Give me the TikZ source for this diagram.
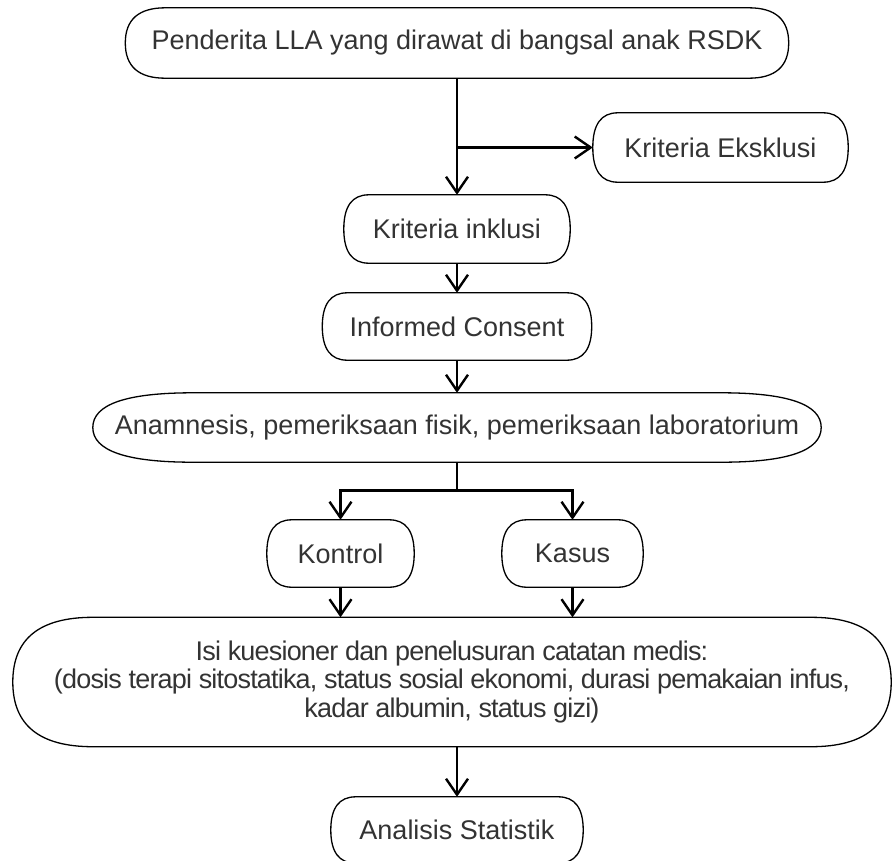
\documentclass[tikz,border=0pt]{standalone}
\usepackage{fontspec}
\setmainfont{Liberation Sans}
\usetikzlibrary{arrows.meta,calc}
\definecolor{txt}{HTML}{333333}
\newcommand\tboxborder[2]{%
  \path ([xshift=#2]#1.north west) coordinate (q1)
        ([xshift=-#2]#1.north east) coordinate (q2)
        ([xshift=-#2]#1.south east) coordinate (q3)
        ([xshift=#2]#1.south west) coordinate (q4);
  \draw[boxline] (q1) -- (q2)
    .. controls ($(q2)!0.6667!(#1.north east)$) and ($(#1.east)!0.6667!(#1.north east)$) .. (#1.east)
    .. controls ($(#1.east)!0.6667!(#1.south east)$) and ($(q3)!0.6667!(#1.south east)$) .. (q3)
    -- (q4)
    .. controls ($(q4)!0.6667!(#1.south west)$) and ($(#1.west)!0.6667!(#1.south west)$) .. (#1.west)
    .. controls ($(#1.west)!0.6667!(#1.north west)$) and ($(q1)!0.6667!(#1.north west)$) .. (q1) -- cycle;}
\begin{document}
\begin{tikzpicture}[x=1pt,y=-1pt,
  tb/.style={inner sep=0pt, text=txt, font=\fontsize{27}{28.5}\selectfont, align=center},
  boxline/.style={draw=black, line width=1.3pt, line join=round},
  arr/.style={draw=black, line width=2.6pt, -{Straight Barb[length=16pt,width=22pt,line width=2.4pt]}},
  ln/.style={draw=black, line width=2.6pt}]
\useasboundingbox (0,0) rectangle (892,860);
\clip (0,0) rectangle (892,860);
\node[tb, minimum width=663pt, minimum height=70pt] (n1) at (457,43) {Penderita LLA yang dirawat di bangsal anak RSDK};
\node[tb, minimum width=255pt, minimum height=69pt] (n2) at (720.5,147.5) {Kriteria Eksklusi};
\node[tb, minimum width=226pt, minimum height=68pt] (n3) at (457,229) {Kriteria inklusi};
\node[tb, minimum width=269pt, minimum height=67pt] (n4) at (457,326.5) {Informed Consent};
\node[tb, minimum width=728pt, minimum height=69pt] (n5) at (457,427.5) {Anamnesis, pemeriksaan fisik, pemeriksaan laboratorium};
\node[tb, minimum width=147pt, minimum height=67pt] (n6) at (340.5,553.5) {Kontrol};
\node[tb, minimum width=141pt, minimum height=67pt] (n7) at (572.5,553.5) {Kasus};
\node[tb, font=\fontsize{27}{28.5}\selectfont\addfontfeature{LetterSpace=-3}, minimum width=878pt, minimum height=129pt] (n8) at (452,682) {Isi kuesioner dan penelusuran catatan medis:\\(dosis terapi sitostatika, status sosial ekonomi, durasi pemakaian infus,\\kadar albumin, status gizi)};
\node[tb, minimum width=252pt, minimum height=66pt] (n9) at (457,830) {Analisis Statistik};

\tboxborder{n1}{40pt}
\tboxborder{n2}{25pt}
\tboxborder{n3}{25pt}
\tboxborder{n4}{25pt}
\tboxborder{n5}{100pt}
\tboxborder{n6}{25pt}
\tboxborder{n7}{25pt}
\tboxborder{n8}{80pt}
\tboxborder{n9}{25pt}

\draw[arr] (n1.south) -- (n3.north);
\draw[arr] (n1.south |- n2.west) -- (n2.west);
\draw[arr] (n3.south) -- (n4.north);
\draw[arr] (n4.south) -- (n5.north);
\draw[ln] (n5.south) -- ++(0,28) coordinate (br);
\draw[arr] (br) -| (n6.north);
\draw[arr] (br) -| (n7.north);
\draw[arr] (n6.south) -- (n6.south |- n8.north);
\draw[arr] (n7.south) -- (n7.south |- n8.north);
\draw[arr] (n8.south -| n9.north) -- (n9.north);
\end{tikzpicture}
\end{document}
